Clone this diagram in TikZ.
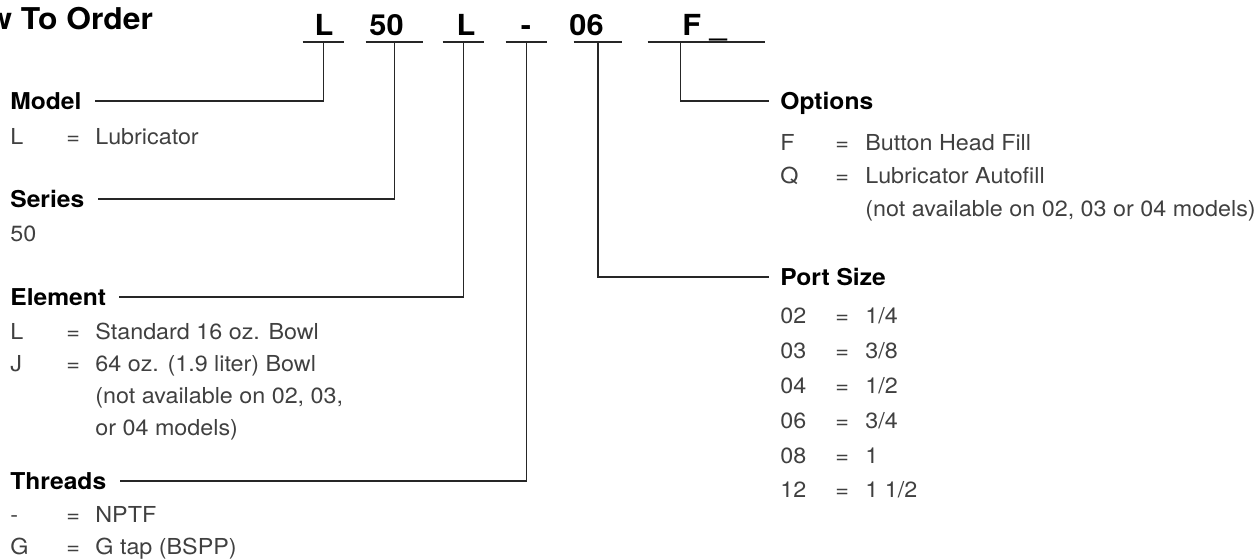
\documentclass[tikz,border=0pt]{standalone}
\usepackage{fontspec}
\setmainfont{TeX Gyre Heros}[FakeStretch=1.06]
\usepackage{tikz}
\usetikzlibrary{positioning}
\definecolor{inkgray}{gray}{0.25}

\tikzset{
  title/.style={font=\fontsize{15}{17}\selectfont\bfseries, inner sep=0pt},
  code/.style={font=\fontsize{14.5}{17}\selectfont\bfseries, anchor=base, inner sep=0pt},
  blank/.style={inner sep=0pt, minimum height=0pt},
  head/.style={font=\fontsize{11.6}{13}\selectfont\bfseries, anchor=west, inner sep=0pt, text height=8.3pt, text depth=0pt},
  item/.style={font=\fontsize{11}{13}\selectfont, text=inkgray, anchor=west, inner sep=0pt, text height=7.9pt, text depth=0pt},
  lead/.style={line width=0.65pt, draw=black!85},
}

\begin{document}
\begin{tikzpicture}[x=0.5pt, y=-0.5pt]
  \useasboundingbox (0,0) rectangle (1260,559);
  % Title
  \node[title, anchor=base west] (title) at (-13,29) {w To Order};
  % Code letters
  \node[code] (cL) at (324,35) {L};
  \node[code] (c50) at (386.5,35) {50};
  \node[code] (cE) at (466,35) {L};
  \node[code] (cT) at (526,35) {-};
  \node[code] (cP) at (586.5,35) {06};
  \node[code, anchor=base west] (cO) at (682,35) {F \_};
  % Blanks under the code
  \node[blank, minimum width=20.5pt] (uL) at (323.5,42) {};
  \node[blank, minimum width=28.5pt] (u50) at (394.5,42) {};
  \node[blank, minimum width=20.5pt] (uE) at (463.5,42) {};
  \node[blank, minimum width=20.5pt] (uT) at (526.5,42) {};
  \node[blank, minimum width=24pt] (uP) at (598,42) {};
  \node[blank, minimum width=58.5pt] (uO) at (706.5,42) {};
  \foreach \u in {uL,u50,uE,uT,uP,uO}
    \draw[lead] (\u.west) -- (\u.east);

  % Model
  \node[head] (hModel) at (10,101) {Model};
  \node[item] (mK) at (10,137) {L};
  \node[item] (mEq) at (66,137) {=};
  \node[item] (mV) at (95,137) {Lubricator};
  % Series
  \node[head] (hSeries) at (10,199) {Series};
  \node[item] (sK) at (10,234) {50};
  % Element
  \node[head] (hElement) at (10,297) {Element};
  \node[item] (eK1) at (10,332) {L};
  \node[item] (eEq1) at (66,332) {=};
  \node[item] (eV1) at (95,332) {Standard 16 oz. Bowl};
  \node[item] (eK2) at (10,364) {J};
  \node[item] (eEq2) at (66,364) {=};
  \node[item] (eV2) at (95,364) {64 oz. (1.9 liter) Bowl};
  \node[item] (eN1) at (95,396) {(not available on 02, 03,};
  \node[item] (eN2) at (95,428) {or 04 models)};
  % Threads
  \node[head] (hThreads) at (10,481) {Threads};
  \node[item] (tK1) at (10,515) {-};
  \node[item] (tEq1) at (66,515) {=};
  \node[item] (tV1) at (95,515) {NPTF};
  \node[item] (tK2) at (10,547) {G};
  \node[item] (tEq2) at (66,547) {=};
  \node[item] (tV2) at (95,547) {G tap (BSPP)};

  % Options
  \node[head] (hOptions) at (780,101) {Options};
  \node[item] (oK1) at (780,143) {F};
  \node[item] (oEq1) at (835,143) {=};
  \node[item] (oV1) at (865,143) {Button Head Fill};
  \node[item] (oK2) at (780,176) {Q};
  \node[item] (oEq2) at (835,176) {=};
  \node[item] (oV2) at (865,176) {Lubricator Autofill};
  \node[item] (oN) at (865,209) {(not available on 02, 03 or 04 models)};
  % Port size
  \node[head] (hPort) at (780,277) {Port Size};
  \foreach \k/\v [count=\i] in {02/{1/4},03/{3/8},04/{1/2},06/{3/4},08/1,12/{1 1/2}} {
    \pgfmathsetmacro\yy{316+34.8*(\i-1)}
    \node[item] (p\i k) at (780,\yy) {\k};
    \node[item] (p\i e) at (835,\yy) {=};
    \node[item] (p\i v) at (865,\yy) {\v};
  }

  % Leaders from the code to the headings
  \draw[lead] (uL.center) |- ([xshift=6.5pt]hModel.east);
  \draw[lead] (u50.center) |- ([xshift=6.5pt]hSeries.east);
  \draw[lead] (uE.center) |- ([xshift=6.5pt]hElement.east);
  \draw[lead] (uT.center) |- ([xshift=6.5pt]hThreads.east);
  \draw[lead] (uP.center) |- ([xshift=-5.5pt]hPort.west);
  \draw[lead] ([xshift=16.5pt]uO.west) |- ([xshift=-5.5pt]hOptions.west);
\end{tikzpicture}
\end{document}
